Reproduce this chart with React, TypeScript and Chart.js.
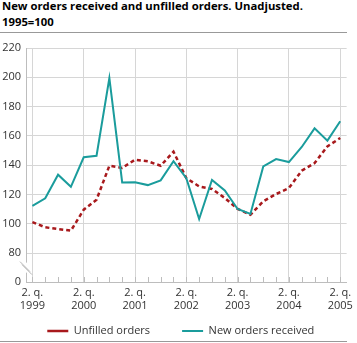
import React, { useEffect, useRef } from 'react';
import { Chart, registerables } from 'chart.js';

Chart.register(...registerables);

const quarters = [
  '1999 Q2', '1999 Q3', '1999 Q4', '2000 Q1',
  '2000 Q2', '2000 Q3', '2000 Q4', '2001 Q1',
  '2001 Q2', '2001 Q3', '2001 Q4', '2002 Q1',
  '2002 Q2', '2002 Q3', '2002 Q4', '2003 Q1',
  '2003 Q2', '2003 Q3', '2003 Q4', '2004 Q1',
  '2004 Q2', '2004 Q3', '2004 Q4', '2005 Q1',
  '2005 Q2',
];

const unfilledOrders = [
  101.3, 97.7, 96.5, 95.4,
  109.7, 116.5, 139.7, 138.2,
  143.8, 142.7, 139.7, 149.3,
  131.2, 125.6, 123.8, 117.7,
  110.2, 106.3, 115.4, 120.4,
  124.5, 136.3, 141.5, 152.9,
  158.6,
];

const newOrdersReceived = [
  112.3, 117.5, 133.6, 125.3,
  145.5, 146.5, 199.5, 128.3,
  128.5, 126.5, 129.7, 142.8,
  131.2, 103.4, 130.0, 122.8,
  110.2, 106.8, 139.2, 144.2,
  142.2, 152.5, 165.2, 156.8,
  170.0,
];

const yTickValues = [80, 100, 120, 140, 160, 180, 200, 220];
const yBreakBase = 60.4; // compressed axis base, labelled "0"
const yMax = 220;
const quarterLabelPrefix = '2. q.';

const FONT = "'Open Sans', 'DejaVu Sans', sans-serif";
const GRID = '#d6d6d6';
const AXIS = '#bdbdbd';
const TEAL = '#1a9c9c';
const RED = '#a8191c';

const axisDecor = {
  id: 'axisDecor',
  afterDraw(chart: any) {
    const { ctx, chartArea, scales } = chart;
    const xs = scales.x;
    const ys = scales.y;
    ctx.save();
    ctx.strokeStyle = AXIS;
    ctx.lineWidth = 1;
    for (let i = 0; i < quarters.length; i++) {
      const px = Math.round(xs.getPixelForValue(i)) + 0.5;
      ctx.beginPath();
      ctx.moveTo(px, chartArea.bottom);
      ctx.lineTo(px, chartArea.bottom - 5);
      ctx.stroke();
    }
    const y80 = ys.getPixelForValue(80);
    const mid = (y80 + chartArea.bottom) / 2;
    const lx = chartArea.left;
    ctx.fillStyle = '#ffffff';
    ctx.fillRect(lx - 2, mid - 5, 4, 10);
    ctx.strokeStyle = '#b5b5b5';
    ctx.beginPath();
    ctx.moveTo(lx - 6, mid - 6);
    ctx.lineTo(lx + 4, mid + 4);
    ctx.moveTo(lx - 4, mid - 3);
    ctx.lineTo(lx + 6, mid + 7);
    ctx.stroke();
    ctx.restore();
  },
};

export default function App() {
  const canvasRef = useRef<HTMLCanvasElement | null>(null);

  useEffect(() => {
    document.body.style.margin = '0';
    const canvas = canvasRef.current;
    if (!canvas) return;
    const chart = new Chart(canvas, {
      type: 'line',
      data: {
        labels: quarters,
        datasets: [
          {
            label: 'Unfilled orders',
            data: unfilledOrders,
            borderColor: RED,
            backgroundColor: RED,
            borderWidth: 2.5,
            borderDash: [4, 3],
            pointRadius: 0,
            tension: 0,
            order: 1,
          },
          {
            label: 'New orders received',
            data: newOrdersReceived,
            borderColor: TEAL,
            backgroundColor: TEAL,
            borderWidth: 2,
            pointRadius: 0,
            tension: 0,
            order: 0,
          },
        ],
      },
      options: {
        animation: false,
        responsive: false,
        maintainAspectRatio: false,
        layout: { padding: { top: 48, left: 0, right: 10, bottom: -3.5 } },
        plugins: {
          title: { display: false },
          tooltip: { enabled: false },
          legend: {
            display: true,
            position: 'bottom',
            fullSize: false,
            labels: {
              font: { family: FONT, size: 11 },
              color: '#333333',
              usePointStyle: true,
              pointStyle: 'line',
              pointStyleWidth: 21,
              padding: 10,
              generateLabels: (chart: any) => {
                const items = (Chart as any).defaults.plugins.legend.labels.generateLabels(chart);
                items.sort((a: any, b: any) => a.datasetIndex - b.datasetIndex);
                if (items.length > 1) {
                  items[0].text = items[0].text + '\u2003\u2003';
                  items[1].text = items[1].text + '\u2003';
                }
                return items;
              },
            },
          },
        },
        scales: {
          x: {
            type: 'category',
            offset: true,
            afterFit: (scale: any) => {
              scale.height = 33.5;
            },
            grid: {
              display: true,
              drawTicks: false,
              offset: false,
              color: (c: any) => (quarters[c.index] && quarters[c.index].endsWith('Q2') ? GRID : 'rgba(0,0,0,0)'),
            },
            border: { display: true, color: AXIS },
            ticks: {
              autoSkip: false,
              maxRotation: 0,
              minRotation: 0,
              padding: 4,
              color: '#333333',
              font: { family: FONT, size: 11 },
              callback: (_v: any, index: number) => {
                const q = quarters[index];
                if (q && q.endsWith('Q2')) return [quarterLabelPrefix, q.slice(0, 4)];
                return '';
              },
            },
          },
          y: {
            min: yBreakBase,
            max: yMax,
            afterFit: (scale: any) => {
              scale.width = 26;
            },
            afterBuildTicks: (scale: any) => {
              scale.ticks = [yBreakBase, ...yTickValues].map((v) => ({ value: v }));
            },
            grid: {
              drawTicks: false,
              color: (c: any) => (c.tick && c.tick.value < 80 ? 'rgba(0,0,0,0)' : GRID),
            },
            border: { display: true, color: AXIS },
            ticks: {
              padding: 5,
              color: '#333333',
              font: { family: FONT, size: 11 },
              callback: (v: any) => (v < 80 ? '0' : String(v)),
            },
          },
        },
      },
      plugins: [axisDecor],
    });
    return () => chart.destroy();
  }, []);

  return (
    <div style={{ position: 'relative', width: 357, height: 343, overflow: 'hidden', background: '#fff' }}>
      <div
        style={{
          position: 'absolute',
          left: 2,
          top: -1.8,
          fontFamily: FONT,
          fontWeight: 700,
          fontSize: 11.3,
          lineHeight: '15.4px',
          color: '#000',
          whiteSpace: 'nowrap',
        }}
      >
        <div>New orders received and unfilled orders. Unadjusted.</div>
        <div>1995=100</div>
      </div>
      <div style={{ position: 'absolute', left: 0, top: 32, width: 347, height: 1, background: '#999' }} />
      <canvas ref={canvasRef} width={357} height={343} style={{ position: 'absolute', left: 0, top: 0, width: 357, height: 343 }} />
      <div style={{ position: 'absolute', left: 0, top: 341, width: 347, height: 1, background: '#999' }} />
    </div>
  );
}
